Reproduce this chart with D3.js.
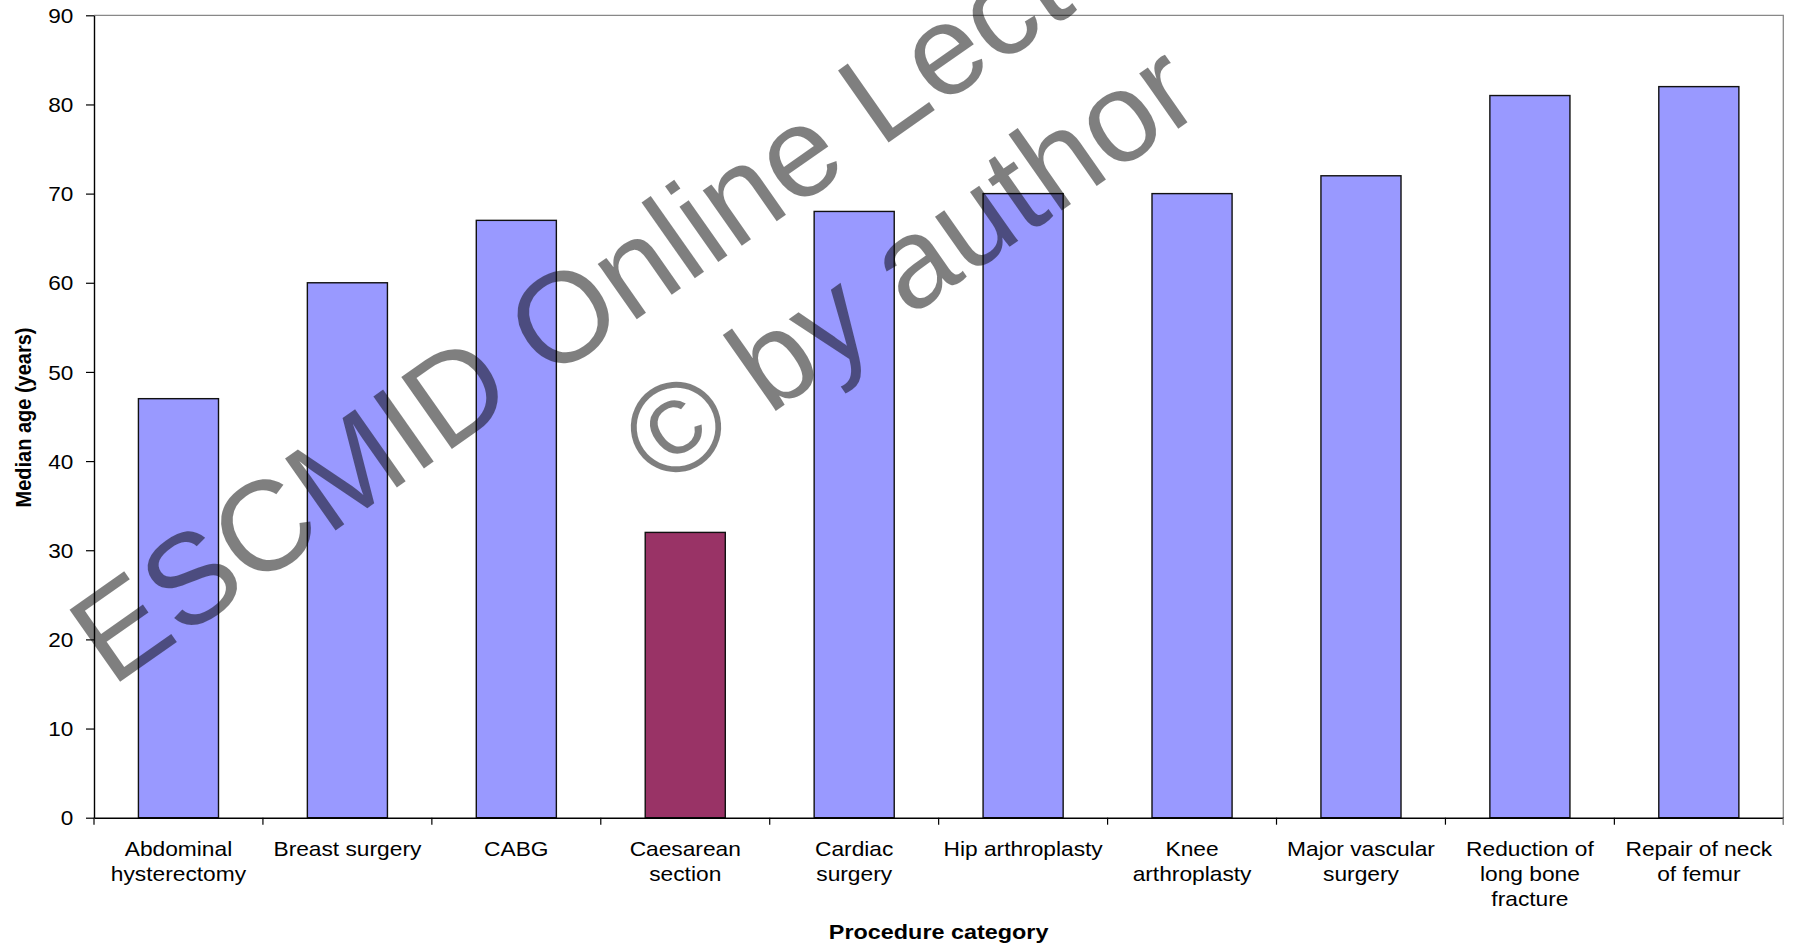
<!DOCTYPE html>
<html>
<head>
<meta charset="utf-8">
<script src="https://cdn.jsdelivr.net/npm/d3@7/dist/d3.min.js"></script>
<style>
  body { margin: 0; background: #fff; }
  text { font-family: "Liberation Sans", Arial, sans-serif; }
</style>
</head>
<body>
<div id="chart"></div>
<script>
// data
const categories = ["Abdominal hysterectomy", "Breast surgery", "CABG", "Caesarean section",
  "Cardiac surgery", "Hip arthroplasty", "Knee arthroplasty", "Major vascular surgery",
  "Reduction of long bone fracture", "Repair of neck of femur"];
const labelLines = [["Abdominal", "hysterectomy"], ["Breast surgery"], ["CABG"], ["Caesarean", "section"],
  ["Cardiac", "surgery"], ["Hip arthroplasty"], ["Knee", "arthroplasty"], ["Major vascular", "surgery"],
  ["Reduction of", "long bone", "fracture"], ["Repair of neck", "of femur"]];
const medianAge = [47, 60, 67, 32, 68, 70, 70, 72, 81, 82];
const yTicks = [0, 10, 20, 30, 40, 50, 60, 70, 80, 90];
const highlighted = "Caesarean section";
const watermark = ["ESCMID Online Lecture Library", "\u00A9 by author"];

const barColor = "#9999ff";
const highlightColor = "#993366";
const stretch = 1.13; // texte un peu élargi dans l'original

const width = 1795, height = 944;
const margin = {top: 15.3, right: 11.7, bottom: 126.3, left: 94};

const svg = d3.select('#chart').append('svg')
  .attr('width', width)
  .attr('height', height);

const x = d3.scaleBand()
  .domain(categories)
  .range([margin.left, width - margin.right])
  .paddingInner(0.526)
  .paddingOuter(0.263);

const y = d3.scaleLinear()
  .domain([0, 90])
  .range([height - margin.bottom, margin.top]);

// cadre gris en haut et à droite
svg.append('path')
  .attr('d', `M${margin.left},${y(90)}H${width - margin.right}V${y(0) + 7}`)
  .attr('fill', 'none')
  .attr('stroke', '#888')
  .attr('stroke-width', 1.3);

// barres
svg.selectAll('.bar')
  .data(categories)
  .join('rect')
  .attr('class', 'bar')
  .attr('x', d => x(d))
  .attr('y', (d, i) => y(medianAge[i]))
  .attr('width', x.bandwidth())
  .attr('height', (d, i) => y(0) - y(medianAge[i]))
  .attr('fill', d => d === highlighted ? highlightColor : barColor)
  .attr('stroke', '#111')
  .attr('stroke-width', 1.4);

// axe Y
const yAxis = svg.append('g')
  .attr('transform', `translate(${margin.left},0)`)
  .call(d3.axisLeft(y).tickValues(yTicks).tickSize(8).tickSizeOuter(0));
yAxis.select('.domain').attr('stroke', '#000').attr('stroke-width', 1.4);
yAxis.selectAll('.tick line').attr('stroke', '#000').attr('stroke-width', 1.2);
yAxis.selectAll('.tick text')
  .attr('x', -20.7 / stretch)
  .attr('dy', '0.36em')
  .attr('font-size', 20)
  .attr('font-family', '"Liberation Sans", Arial, sans-serif')
  .attr('fill', '#000')
  .attr('transform', `scale(${stretch},1)`);

// axe X
const xAxis = svg.append('g')
  .attr('transform', `translate(0,${y(0)})`)
  .call(d3.axisBottom(x).tickSize(0).tickSizeOuter(0));
xAxis.select('.domain').attr('stroke', '#000').attr('stroke-width', 1.4);
xAxis.selectAll('.tick text').each(function (d, i) {
  const t = d3.select(this)
    .text(null)
    .attr('y', 0)
    .attr('dy', null)
    .attr('font-size', 20.5)
    .attr('font-family', '"Liberation Sans", Arial, sans-serif')
    .attr('fill', '#000')
    .attr('transform', `translate(0,38) scale(1.11,1)`);
  labelLines[i].forEach((line, j) => {
    t.append('tspan').attr('x', 0).attr('y', j * 25).text(line);
  });
});

// petits traits entre les catégories
const half = (x.step() - x.bandwidth()) / 2;
const boundaries = categories.map(c => x(c) - half).concat([width - margin.right]);
svg.selectAll('.xtick')
  .data(boundaries)
  .join('line')
  .attr('x1', d => d).attr('x2', d => d)
  .attr('y1', y(0)).attr('y2', y(0) + 7)
  .attr('stroke', (d, i) => i === boundaries.length - 1 ? '#888' : '#000')
  .attr('stroke-width', 1.2);

// titres des axes
svg.append('text')
  .attr('transform', `translate(30.7,417.5) scale(${stretch},1) rotate(-90)`)
  .attr('text-anchor', 'middle')
  .attr('font-weight', 'bold')
  .attr('font-size', 20)
  .text('Median age (years)');

svg.append('text')
  .attr('transform', `translate(${(margin.left + width - margin.right) / 2},939.3) scale(1.17,1)`)
  .attr('text-anchor', 'middle')
  .attr('font-weight', 'bold')
  .attr('font-size', 20)
  .text('Procedure category');

// filigrane
const wm = svg.append('g')
  .attr('transform', 'translate(845.2,172.9) rotate(-35.06)');
wm.selectAll('text')
  .data(watermark)
  .join('text')
  .attr('x', 0)
  .attr('y', (d, i) => i * 155)
  .attr('text-anchor', 'middle')
  .attr('font-size', 128)
  .attr('fill', '#000')
  .attr('fill-opacity', 0.5)
  .text(d => d);
</script>
</body>
</html>
